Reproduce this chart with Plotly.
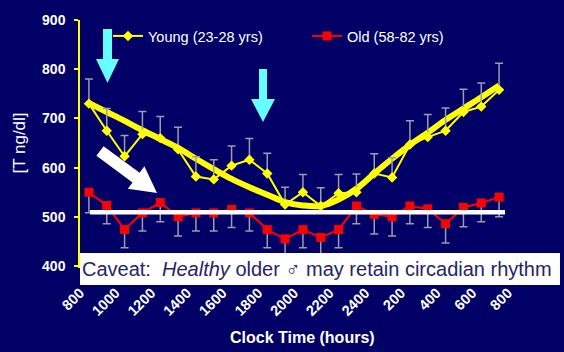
import plotly.graph_objects as go

# ---------------- data ----------------
hours = [8.5, 9.5, 10.5, 11.5, 12.5, 13.5, 14.5, 15.5, 16.5, 17.5, 18.5, 19.5,
         20.5, 21.5, 22.5, 23.5, 24.5, 25.5, 26.5, 27.5, 28.5, 29.5, 30.5, 31.5]
young = [730, 675, 623, 668, 660, 637, 582, 576, 604, 616, 588, 525,
         550, 522, 548, 550, 588, 580, 647, 662, 675, 713, 724, 758]
young_err = [50, 45, 42, 46, 44, 45, 40, 40, 40, 43, 41, 35,
             36, 37, 38, 37, 40, 40, 48, 46, 46, 46, 48, 54]
old = [550, 523, 474, 508, 529, 500, 508, 508, 515, 508, 474, 455,
       474, 458, 474, 522, 505, 500, 522, 516, 486, 519, 528, 540]
old_err = [42, 37, 37, 37, 39, 39, 37, 37, 37, 37, 37, 40,
           37, 38, 37, 36, 40, 39, 36, 38, 39, 39, 38, 40]
young_trend = [731, 713, 695, 676, 658, 640, 618, 597, 577, 560, 545, 530,
               523, 522, 535, 557, 588, 618, 646, 671, 697, 720, 743, 767]
tick_hours = [8, 10, 12, 14, 16, 18, 20, 22, 24, 26, 28, 30, 32]
tick_labels = ["800", "1000", "1200", "1400", "1600", "1800", "2000", "2200",
               "2400", "200", "400", "600", "800"]
y_ticks = [400, 500, 600, 700, 800, 900]

# ---------------- layout geometry (px) ----------------
W, H = 564, 352
L, R, T, B = 80, 56, 20, 86
PW, PH = W - L - R, H - T - B
NAVY = "#000066"
CYAN = "#66FFFF"
ERR = "#9C9CAC"


def px(x, y):
    return (x - L) / PW, (H - B - y) / PH


def poly(points):
    parts = []
    for i, (x, y) in enumerate(points):
        a, b = px(x, y)
        parts.append(("M" if i == 0 else "L") + f"{a:.5f},{b:.5f}")
    return " ".join(parts) + " Z"


def down_arrow(cx, top, head_top, tip, shaft_hw, head_hw):
    return poly([(cx - shaft_hw, top), (cx + shaft_hw, top), (cx + shaft_hw, head_top),
                 (cx + head_hw, head_top), (cx, tip), (cx - head_hw, head_top),
                 (cx - shaft_hw, head_top)])


def diag_arrow(x0, y0, x1, y1, shaft_hw, head_len, head_hw):
    dx, dy = x1 - x0, y1 - y0
    ln = (dx * dx + dy * dy) ** 0.5
    ux, uy = dx / ln, dy / ln
    nx, ny = -uy, ux
    bx, by = x1 - ux * head_len, y1 - uy * head_len
    pts = [(x0 + nx * shaft_hw, y0 + ny * shaft_hw), (bx + nx * shaft_hw, by + ny * shaft_hw),
           (bx + nx * head_hw, by + ny * head_hw), (x1, y1),
           (bx - nx * head_hw, by - ny * head_hw), (bx - nx * shaft_hw, by - ny * shaft_hw),
           (x0 - nx * shaft_hw, y0 - ny * shaft_hw)]
    return poly(pts)


fig = go.Figure()

fig.add_trace(go.Scatter(
    x=hours, y=young_trend, mode="lines", showlegend=False, hoverinfo="skip",
    line=dict(color="#FFFF00", width=6, shape="spline", smoothing=1.0)))

fig.add_trace(go.Scatter(
    x=hours, y=old, mode="lines+markers", name="Old (58-82 yrs)", legend="legend2",
    line=dict(color="#FF0000", width=2),
    marker=dict(symbol="square", size=9, color="#FF0000"),
    error_y=dict(type="data", symmetric=False, array=[0] * len(old_err),
                 arrayminus=old_err, color=ERR, thickness=1.5, width=4)))

fig.add_trace(go.Scatter(
    x=hours, y=young, mode="lines+markers", name="Young (23-28 yrs)", legend="legend",
    line=dict(color="#FFFF00", width=2),
    marker=dict(symbol="diamond", size=8, color="#FFFF00"),
    error_y=dict(type="data", symmetric=False, array=young_err,
                 arrayminus=[0] * len(young_err), color=ERR, thickness=1.5, width=4)))

shapes = [
    # white baseline
    dict(type="path", xref="paper", yref="paper", layer="above", line=dict(width=0),
         fillcolor="white", path=poly([(90, 210), (505, 210), (505, 214.5), (90, 214.5)])),
    # caveat box
    dict(type="path", xref="paper", yref="paper", layer="above", line=dict(width=0),
         fillcolor="white", path=poly([(80, 253), (560, 253), (560, 285), (80, 285)])),
    # cyan arrows
    dict(type="path", xref="paper", yref="paper", layer="above", line=dict(width=0),
         fillcolor=CYAN, path=down_arrow(107.5, 29, 59, 83, 4.5, 11.5)),
    dict(type="path", xref="paper", yref="paper", layer="above", line=dict(width=0),
         fillcolor=CYAN, path=down_arrow(263, 69, 99, 122, 4, 12)),
    # white diagonal arrow
    dict(type="path", xref="paper", yref="paper", layer="above", line=dict(width=0),
         fillcolor="white", path=diag_arrow(100, 151, 157, 193, 6, 26, 14)),
]

cx, cy = px(80, 269)
tx, ty = px(302, 337)
annotations = [
    dict(xref="paper", yref="paper", x=cx, y=cy, xanchor="left", yanchor="middle",
         showarrow=False,
         text="Caveat:\u00a0\u00a0<i>Healthy</i> older \u2642 may retain circadian rhythm",
         font=dict(family="Liberation Sans, Arial", size=20, color="#24246A")),
    dict(xref="paper", yref="paper", x=tx, y=ty, xanchor="center", yanchor="middle",
         showarrow=False, text="<b>Clock Time (hours)</b>",
         font=dict(family="Liberation Sans, Arial", size=16, color="white")),
]

lx1, ly = px(108, 36)
lx2, _ = px(307, 36)
legend_common = dict(orientation="h", yanchor="middle", xanchor="left", y=ly,
                     bgcolor="rgba(0,0,0,0)", borderwidth=0,
                     font=dict(family="Liberation Sans, Arial", size=14.5, color="white"))

fig.update_layout(
    width=W, height=H, margin=dict(l=L, r=R, t=T, b=B, pad=0),
    paper_bgcolor=NAVY, plot_bgcolor=NAVY,
    font=dict(family="Liberation Sans, Arial", color="white"),
    shapes=shapes, annotations=annotations,
    legend=dict(x=lx1, **legend_common),
    legend2=dict(x=lx2, **legend_common),
    xaxis=dict(range=[8, 32], tickmode="array", tickvals=tick_hours, ticktext=tick_labels,
               tickangle=-45, showgrid=False, zeroline=False, showline=True,
               linecolor="#FFFF00", linewidth=1.5, ticks="", ticklabelstandoff=11,
               tickfont=dict(family="Liberation Sans, Arial", size=14.5, color="white",
                             weight="bold")),
    yaxis=dict(range=[400, 900], tickmode="array", tickvals=y_ticks, showgrid=False,
               zeroline=False, showline=True, linecolor="#FFFF00", linewidth=1.5,
               ticks="outside", ticklen=4, tickcolor="#FFFF00", tickwidth=1.5,
               ticklabelstandoff=6,
               tickfont=dict(family="Liberation Sans, Arial", size=14, color="white",
                             weight="bold"),
               title=dict(text="[T ng/dl]", standoff=12,
                          font=dict(family="Liberation Sans, Arial", size=17,
                                    color="white"))),
)

fig.write_html("out.html")
